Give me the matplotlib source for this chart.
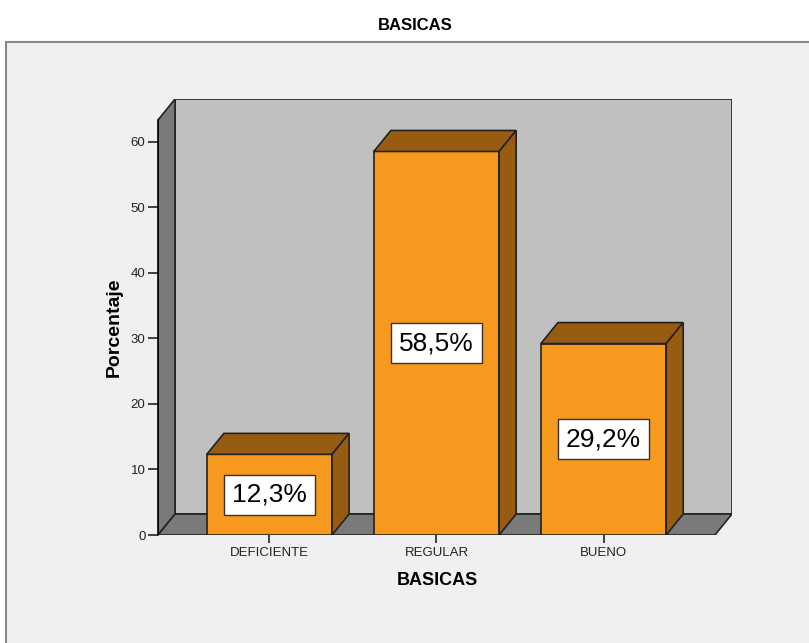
import matplotlib.pyplot as plt
from matplotlib.patches import Polygon, Rectangle

# datos del grafico
categorias = ["DEFICIENTE", "REGULAR", "BUENO"]
porcentajes = [12.3, 58.5, 29.2]
etiquetas = ["12,3%", "58,5%", "29,2%"]
ticks_y = [0, 10, 20, 30, 40, 50, 60]

plt.rcParams['font.family'] = ['Liberation Sans', 'DejaVu Sans']

naranja = "#F7991E"
marron = "#985B12"
gris_fondo = "#C0C0C0"
gris_piso = "#7A7A7A"
borde = "#222222"

fig = plt.figure(figsize=(8.09, 6.43), dpi=100)
fig.patch.set_facecolor("white")

# panel gris de fondo
panel = Rectangle((6 / 809, -0.01), 1.0, 1 - 42 / 643 + 0.01,
                  transform=fig.transFigure, facecolor="#F0F0F0",
                  edgecolor="#888888", lw=1.5, zorder=-5)
fig.add_artist(panel)

ax = fig.add_axes([158 / 809, 1 - 535 / 643, 574 / 809, 436 / 643])
ax.set_facecolor("none")
ax.set_zorder(2)

# profundidad 3D
dx, dy = 0.102, 3.2
xl, xr = -0.667, 2.667
ymax = 63.3
ancho = 0.75

ax.set_xlim(xl, xr + dx)
ax.set_ylim(0, ymax + dy)

# pared del fondo, pared izquierda y piso
ax.add_patch(Rectangle((xl + dx, dy), xr - xl, ymax, facecolor=gris_fondo,
                       edgecolor=borde, lw=1.2, zorder=1))
ax.add_patch(Polygon([(xl, 0), (xl + dx, dy), (xl + dx, ymax + dy), (xl, ymax)],
                     facecolor=gris_piso, edgecolor=borde, lw=1.2, zorder=1))
ax.add_patch(Polygon([(xl, 0), (xr, 0), (xr + dx, dy), (xl + dx, dy)],
                     facecolor=gris_piso, edgecolor=borde, lw=1.2, zorder=1))

pos = list(range(len(categorias)))
ax.bar(pos, porcentajes, width=ancho, color=naranja, edgecolor=borde, lw=1.2, zorder=3)

for x, v, txt in zip(pos, porcentajes, etiquetas):
    a, b = x - ancho / 2, x + ancho / 2
    ax.add_patch(Polygon([(a, v), (b, v), (b + dx, v + dy), (a + dx, v + dy)],
                         facecolor=marron, edgecolor=borde, lw=1.2, zorder=3))
    ax.add_patch(Polygon([(b, 0), (b + dx, dy), (b + dx, v + dy), (b, v)],
                         facecolor=marron, edgecolor=borde, lw=1.2, zorder=3))
    ax.text(x, v / 2, txt, ha="center", va="center", fontsize=19, zorder=5,
            bbox=dict(boxstyle="square,pad=0.3", facecolor="white",
                      edgecolor="#333333", lw=1))

for s in ["top", "right", "bottom"]:
    ax.spines[s].set_visible(False)
ax.spines["left"].set_bounds(0, ymax)
ax.spines["left"].set_linewidth(1.2)
ax.spines["left"].set_zorder(2)

ax.set_xticks(pos)
ax.set_xticklabels(categorias, fontsize=9.5)
ax.set_yticks(ticks_y)
ax.set_yticklabels([str(t) for t in ticks_y], fontsize=9.5)
ax.tick_params(axis="y", length=7, width=1.2, pad=2, colors="#222222")
ax.tick_params(axis="x", length=6, width=1.2, pad=3, colors="#222222")

ax.set_xlabel("BASICAS", fontsize=13, fontweight="bold")
ax.xaxis.set_label_coords(0.486, -0.085)
ax.set_ylabel("Porcentaje", fontsize=14, fontweight="bold")
ax.yaxis.set_label_coords(-0.062, 0.477)

fig.text(415 / 809, 1 - 25 / 643, "BASICAS", ha="center", va="center",
         fontsize=12, fontweight="bold")

fig.savefig("out.png", dpi=100)
